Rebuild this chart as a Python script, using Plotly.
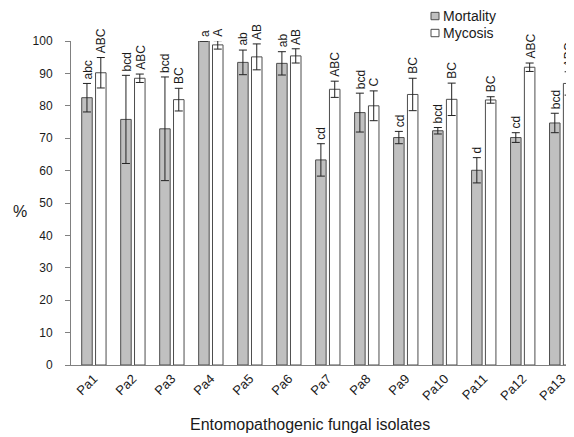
import plotly.graph_objects as go

isolates = ["Pa1", "Pa2", "Pa3", "Pa4", "Pa5", "Pa6", "Pa7", "Pa8", "Pa9", "Pa10", "Pa11", "Pa12", "Pa13"]
mortality = [82.5, 75.8, 72.9, 100, 93.4, 93.1, 63.3, 77.9, 70.2, 72.3, 60.1, 70.2, 74.7]
mortality_err = [4.4, 13.6, 16.0, 0, 3.8, 3.6, 5.0, 6.0, 1.9, 1.0, 3.9, 1.5, 3.0]
mycosis = [90.2, 88.5, 81.9, 98.8, 95.1, 95.4, 85.1, 80.0, 83.5, 82.0, 81.8, 91.9, 86.9]
mycosis_err = [4.7, 1.3, 3.5, 1.3, 4.0, 2.2, 2.5, 4.6, 5.0, 5.0, 1.0, 1.3, 3.6]
mortality_letters = ["abc", "bcd", "bcd", "a", "ab", "ab", "cd", "bcd", "cd", "bcd", "d", "cd", "bcd"]
mycosis_letters = ["ABC", "ABC", "BC", "A", "AB", "AB", "ABC", "C", "BC", "BC", "BC", "ABC", "ABC"]
series_names = ["Mortality", "Mycosis"]

FONT = "Arial, 'Liberation Sans', sans-serif"
TXT = "#1a1a1a"
EDGE = "#4d4d4d"
GRAY = "#c0c0c0"
Y_MAX = 100

# the page body adds an 8px margin; size the figure so it fills the 574x437 window
OFF = 8
W, H = 574 - OFF, 437 - OFF
ML, MR, MT, MB = 71 - OFF, 0, 41 - OFF, 71.5
PW, PH = W - ML - MR, H - MT - MB

fig = go.Figure()
fig.add_trace(go.Bar(
    x=isolates, y=mortality, name=series_names[0],
    marker=dict(color=GRAY, line=dict(color=EDGE, width=1)),
    error_y=dict(type="data", array=mortality_err, color="#222222", thickness=1, width=4),
))
fig.add_trace(go.Bar(
    x=isolates, y=mycosis, name=series_names[1],
    marker=dict(color="#ffffff", line=dict(color=EDGE, width=1)),
    error_y=dict(type="data", array=mycosis_err, color="#222222", thickness=1, width=4),
))

annotations = []
for i, cat in enumerate(isolates):
    for vals, errs, letters, shift in (
        (mortality, mortality_err, mortality_letters, -6.3),
        (mycosis, mycosis_err, mycosis_letters, 7.3),
    ):
        top = vals[i] + errs[i]
        extra = 0
        if top > Y_MAX:  # annotations outside the axis range are hidden
            extra = (top - Y_MAX) * PH / Y_MAX
            top = Y_MAX
        annotations.append(dict(
            x=cat, y=top, xref="x", yref="y",
            text=letters[i], textangle=-90, showarrow=False,
            xanchor="center", yanchor="bottom", xshift=shift, yshift=2 + extra,
            font=dict(family=FONT, size=12, color=TXT),
        ))

def px_x(x):
    # x in reference-window pixels -> paper coords
    return (x - OFF - ML) / PW

def px_y(y):
    return (H - MB - (y - OFF)) / PH

# y-axis title "%" (horizontal)
annotations.append(dict(
    x=px_x(20), y=px_y(212), xref="paper", yref="paper", text="%",
    showarrow=False, xanchor="center", yanchor="middle",
    font=dict(family=FONT, size=16, color=TXT),
))
# x-axis title
annotations.append(dict(
    x=px_x(310), y=px_y(425), xref="paper", yref="paper",
    text="Entomopathogenic fungal isolates",
    showarrow=False, xanchor="center", yanchor="middle",
    font=dict(family=FONT, size=16, color=TXT),
))

# custom legend
shapes = []
for name, fill, yc in zip(series_names, [GRAY, "#ffffff"], [16, 33]):
    shapes.append(dict(
        type="rect", xref="paper", yref="paper",
        x0=px_x(431), x1=px_x(439), y0=px_y(yc - 3.7), y1=px_y(yc + 3.7),
        fillcolor=fill, line=dict(color=EDGE, width=1),
    ))
    annotations.append(dict(
        x=px_x(441), y=px_y(yc), xref="paper", yref="paper", text=name,
        showarrow=False, xanchor="left", yanchor="middle",
        font=dict(family=FONT, size=14, color=TXT),
    ))

fig.update_layout(
    width=W, height=H,
    margin=dict(l=ML, r=MR, t=MT, b=MB),
    paper_bgcolor="white", plot_bgcolor="white",
    barmode="group", bargap=0.29, bargroupgap=0.24,
    showlegend=False,
    annotations=annotations, shapes=shapes,
    font=dict(family=FONT, color=TXT),
)
fig.update_xaxes(
    type="category", range=[-0.587, 12.315],
    showline=True, linecolor="#808080", linewidth=1,
    ticks="", showgrid=False, zeroline=False,
    tickangle=-45, tickfont=dict(family=FONT, size=13, color=TXT),
)
fig.update_yaxes(
    range=[0, Y_MAX], dtick=10,
    showline=True, linecolor="#808080", linewidth=1,
    ticks="outside", ticklen=5, tickcolor="#808080",
    showgrid=False, zeroline=False,
    ticklabelstandoff=10,
    tickfont=dict(family=FONT, size=12, color=TXT),
)

fig.write_html("out.html")
